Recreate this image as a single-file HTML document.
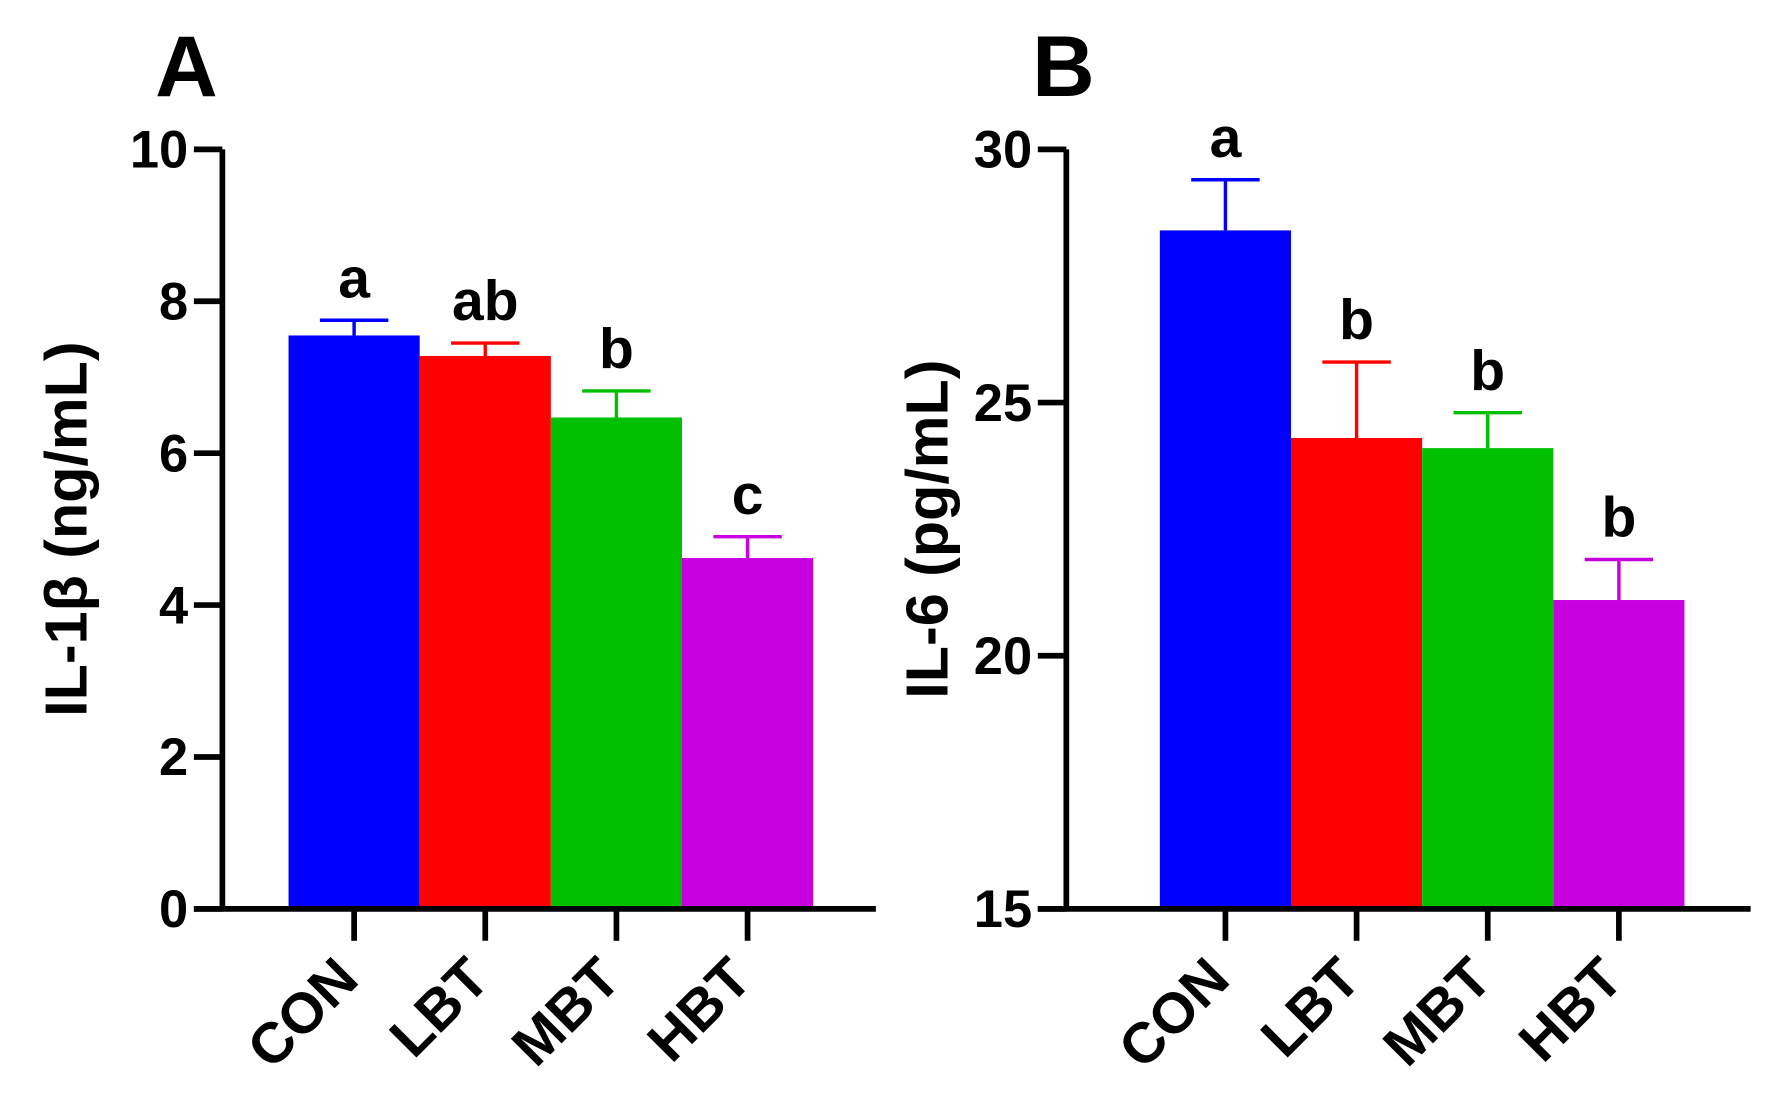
<!DOCTYPE html>
<html><head><meta charset="utf-8"><style>
html,body{margin:0;padding:0;background:#fff;}
svg{display:block;font-family:"Liberation Sans",Arial,sans-serif;font-weight:bold;}
</style></head><body>
<svg id="chart" width="1770" height="1113" viewBox="0 0 1552 976" preserveAspectRatio="none" xmlns="http://www.w3.org/2000/svg"></svg>
<script>
const categories = ["CON","LBT","MBT","HBT"];
const colors = ["#0000ff","#ff0000","#00c000","#c800e0"];
const valuesA = [7.55, 7.28, 6.47, 4.62];
const errorsA = [0.2, 0.17, 0.35, 0.28];
const lettersA = ["a","ab","b","c"];
const ticksA = [0,2,4,6,8,10];
const valuesB = [28.4, 24.3, 24.1, 21.1];
const errorsB = [1.0, 1.5, 0.7, 0.8];
const lettersB = ["a","b","b","b"];
const ticksB = [15,20,25,30];

const svg = document.getElementById('chart');
const NS = "http://www.w3.org/2000/svg";
function mk(tag, attrs, parent){
  const e = document.createElementNS(NS, tag);
  for (const k in attrs) e.setAttribute(k, attrs[k]);
  (parent||svg).appendChild(e);
  return e;
}
function panel(cfg){
  const g = mk('g', {});
  
  
  const y = v => cfg.y0px - (v - cfg.min) / (cfg.max - cfg.min) * (cfg.y0px - cfg.y1px);
  const bw = 115;
  const x = i => cfg.barStart + i * bw;
  categories.forEach((c, i) => {
    const r = mk('rect', {x: x(i), y: y(cfg.values[i]), width: bw, height: cfg.y0px - y(cfg.values[i]), fill: colors[i]}, g);
    
    
    const cx = x(i) + bw / 2;
    const top = y(cfg.values[i] + cfg.errors[i]);
    const eb = mk('path', {d: `M${cx} ${y(cfg.values[i])}V${top}M${cx-30} ${top}H${cx+30}`, stroke: colors[i], 'stroke-width': 3, fill: 'none'}, g);
    
    
    const lt = mk('text', {x: cx, y: top - 20, 'text-anchor': 'middle', 'font-size': 50, fill: '#000'}, g);
    lt.textContent = cfg.letters[i];
    
    
    mk('line', {x1: cx, x2: cx, y1: cfg.y0px, y2: cfg.y0px + 28, stroke: '#000', 'stroke-width': 5}, g);
    const xl = mk('text', {x: 0, y: 0, 'text-anchor': 'end', 'font-size': 50, fill: '#000', transform: `translate(${cx+6},${cfg.y0px+64}) rotate(-45)`}, g);
    xl.textContent = c;
    
    
  });
  const ax = mk('path', {d: `M${cfg.axisX} ${cfg.y1px}V${cfg.y0px}M${cfg.axisX - 25} ${cfg.y0px}H${cfg.axisEnd}`, stroke: '#000', 'stroke-width': 5, fill: 'none'}, g);
  
  
  cfg.ticks.forEach(t => {
    mk('line', {x1: cfg.axisX - 25, x2: cfg.axisX, y1: y(t), y2: y(t), stroke: '#000', 'stroke-width': 5}, g);
    const tl = mk('text', {x: cfg.axisX - 30, y: y(t) + 16, 'text-anchor': 'end', 'font-size': 46, fill: '#000'}, g);
    tl.textContent = t;
    
    
  });
  const yt = mk('text', {x: 0, y: 0, 'text-anchor': 'middle', 'font-size': 52, fill: '#000', transform: `translate(${cfg.titleX},${(cfg.y0px + cfg.y1px) / 2}) rotate(-90)`}, g);
  yt.textContent = cfg.title;
  
  
  const pl = mk('text', {x: cfg.labelX, y: 84, 'font-size': 76, fill: '#000'}, g);
  pl.textContent = cfg.label;
  
  
}
panel({name: 'panel-a-il1b', values: valuesA, errors: errorsA, letters: lettersA, ticks: ticksA, min: 0, max: 10,
  y0px: 797, y1px: 131, axisX: 195, axisEnd: 768, barStart: 253, titleX: 76, title: 'IL-1β (ng/mL)', label: 'A', labelX: 136});
panel({name: 'panel-b-il6', values: valuesB, errors: errorsB, letters: lettersB, ticks: ticksB, min: 15, max: 30,
  y0px: 797, y1px: 131, axisX: 935, axisEnd: 1535, barStart: 1017, titleX: 831, title: 'IL-6 (pg/mL)', label: 'B', labelX: 905});
</script>
</body></html>
